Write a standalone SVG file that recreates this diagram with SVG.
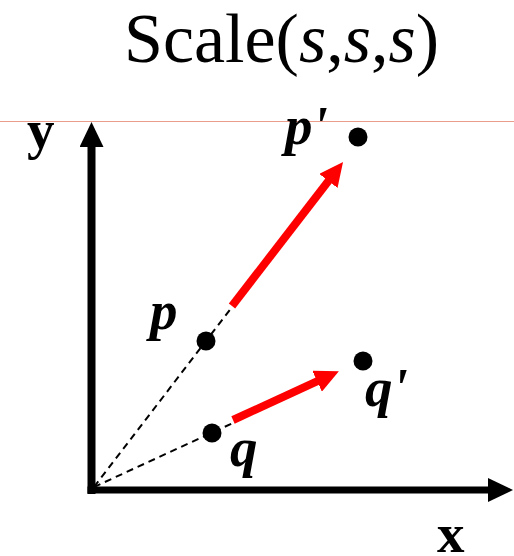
<svg xmlns="http://www.w3.org/2000/svg" width="514" height="556" viewBox="0 0 514 556">
<defs>
<style>
.lbl{font-family:"Liberation Serif","Times New Roman",serif;font-weight:bold;font-size:55px;fill:#000}
.it{font-style:italic}
.dot{fill:#000}
.dash{stroke:#000;stroke-width:2;stroke-dasharray:7 5;fill:none}
.red{stroke:#ff0000;stroke-width:8;fill:none}
.axis{stroke:#000;fill:none}
</style>
<marker id="redHead" markerUnits="userSpaceOnUse" markerWidth="24" markerHeight="23" viewBox="0 0 24 23" refX="1" refY="11.5" orient="auto">
<path d="M0,0 L24,11.5 L0,23 Z" fill="#ff0000"/>
</marker>
<marker id="blackHead" markerUnits="userSpaceOnUse" markerWidth="25" markerHeight="24" viewBox="0 0 25 24" refX="1" refY="12" orient="auto">
<path d="M0,0 L25,12 L0,24 Z" fill="#000"/>
</marker>
</defs>
<rect width="514" height="556" fill="#fff"/>
<line x1="0" y1="121.5" x2="514" y2="121.5" stroke="#eb9c8c" stroke-width="1"/>
<g id="title">
<text x="281.5" y="62" text-anchor="middle" style="font-family:'Liberation Serif','Times New Roman',serif;font-size:70px;fill:#000">Scale(<tspan font-style="italic">s</tspan>,<tspan font-style="italic">s</tspan>,<tspan font-style="italic">s</tspan>)</text>
</g>
<g id="axes">
<line class="axis" x1="91.5" y1="494" x2="91.5" y2="146" stroke-width="8" marker-end="url(#blackHead)"/>
<line class="axis" x1="87.5" y1="490" x2="489" y2="490" stroke-width="7" marker-end="url(#blackHead)"/>
<text class="lbl" x="27" y="148">y</text>
<text class="lbl" x="437" y="552">x</text>
</g>
<g id="connectors">
<line class="dash" x1="94" y1="487" x2="232" y2="307"/>
<line class="dash" x1="94" y1="487" x2="233" y2="423"/>
<line class="red" x1="232" y1="306" x2="329" y2="180.2" marker-end="url(#redHead)"/>
<line class="red" x1="233" y1="420" x2="318" y2="380.8" marker-end="url(#redHead)"/>
</g>
<g id="p">
<circle class="dot" cx="206" cy="341" r="9.5"/>
<text class="lbl it" x="150" y="329">p</text>
</g>
<g id="p-prime">
<circle class="dot" cx="358" cy="137" r="9.5"/>
<text class="lbl it" x="285" y="144">p'</text>
</g>
<g id="q">
<circle class="dot" cx="212" cy="433" r="9.5"/>
<text class="lbl it" x="230" y="466">q</text>
</g>
<g id="q-prime">
<circle class="dot" cx="363" cy="361" r="9.5"/>
<text class="lbl it" x="365" y="406">q'</text>
</g>
</svg>
